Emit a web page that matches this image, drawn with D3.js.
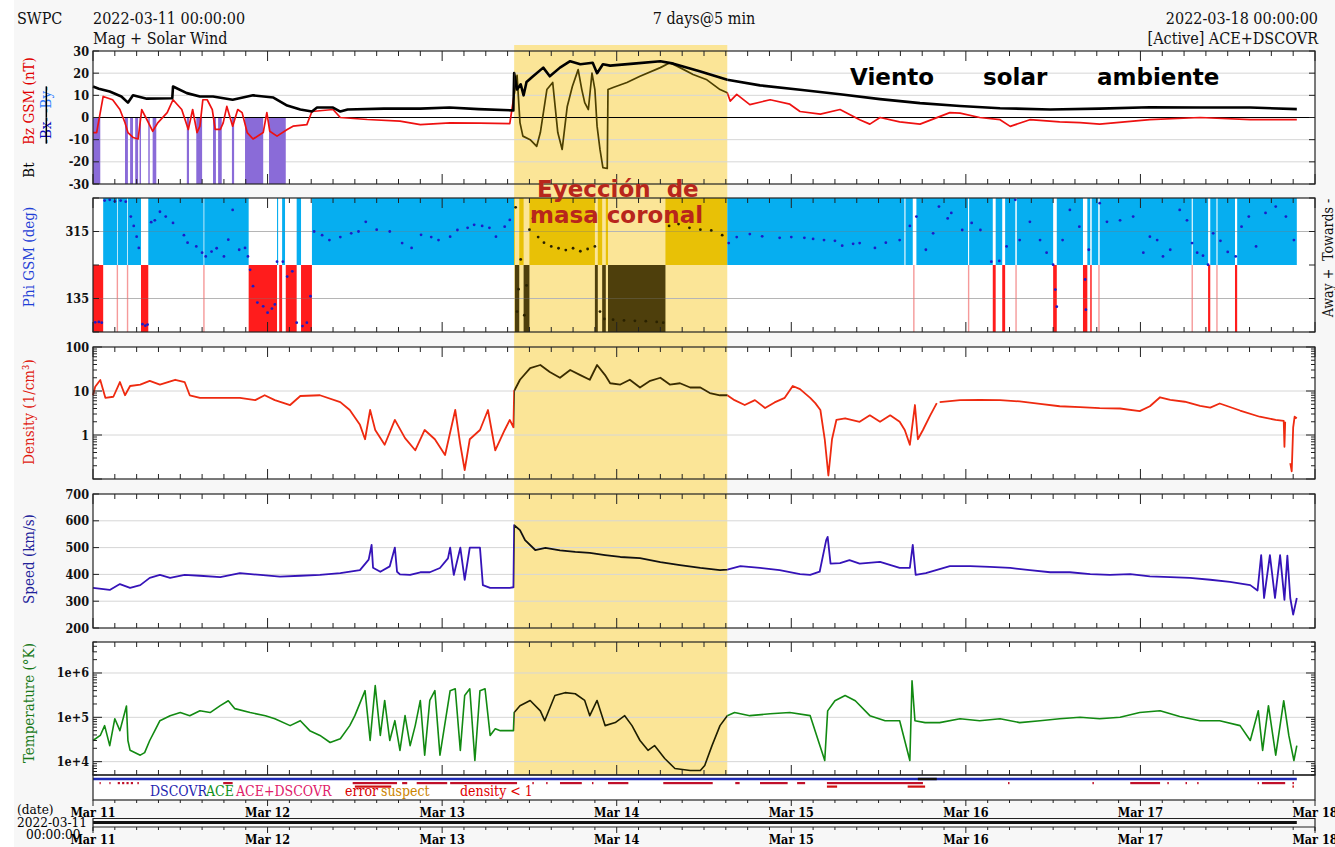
<!DOCTYPE html>
<html><head><meta charset="utf-8">
<script src="https://cdn.jsdelivr.net/npm/d3@7"></script>
<style>
body{margin:0;background:#f7f7f7;}
svg{display:block;}
text{font-family:'DejaVu Serif Condensed','DejaVu Serif',serif;font-stretch:condensed;}
.ann{font-family:'DejaVu Sans',sans-serif;font-weight:bold;font-stretch:normal;white-space:pre;}
</style></head><body>
<svg id="c" width="1335" height="847"></svg>
<script>
// ---------------- DATA (hours since 2022-03-11 00:00 UTC) ----------------
const highlightHours = [57.9, 87.2];
const dataEndHour = 165.5;
const dayLabels = ["Mar 11","Mar 12","Mar 13","Mar 14","Mar 15","Mar 16","Mar 17","Mar 18"];

const bt = [[0,14],[0.8,13],[2.3,11.7],[3.9,9.5],[4.8,6.7],[5.5,10],[7.4,8.5],[10.9,8.7],[11.0,14],[12.9,11],[14.7,9.5],[16.5,9.5],[19.2,8],[22,10],[24.8,9],[26.7,5.4],[28.5,3.6],[30.1,2.7],[30.8,4.5],[33.0,4.5],[34.0,2.7],[35,3.6],[40,4],[45,4],[49,4.5],[53,3.8],[57.8,3.2],[57.9,20],[58.3,12.6],[58.8,15],[59.2,10],[59.6,16],[60.5,18.6],[61.9,22.5],[62.8,18.6],[64.2,22.5],[65.6,25.4],[67,24],[68.7,24.7],[69.3,20],[70.1,24],[71.1,23.4],[74.3,24.3],[78,25.4],[79.8,24.3],[83.4,20.9],[87.2,17],[91.7,14.5],[97.2,12.5],[102.7,10.5],[108.2,8.3],[113.7,6.5],[119.2,5.2],[124.7,4.2],[131.6,3.6],[138.4,4],[145.3,4.6],[152.2,4.5],[159.1,4.5],[165.5,3.8]];

const bz = [[0,-6.8],[0.5,-6.8],[1.4,9.5],[2.7,8],[3.7,3.6],[4.4,-2.4],[4.8,-6.8],[5.5,-9],[6.2,-9.7],[6.7,3.6],[7.4,-0.9],[8.2,-6.2],[8.9,-2.4],[10.2,2.2],[11,8],[12.2,3.6],[13.1,-5.4],[13.7,3.6],[14.3,-6.8],[14.7,-3.9],[15.1,8],[15.7,8],[16.4,3.6],[16.8,-5.4],[17.5,-5.4],[17.9,-2.4],[18.4,5],[19.2,-3.9],[19.9,3.6],[20.5,2.2],[21.2,-6.8],[22,-9.7],[23.4,-6.8],[23.9,2.2],[24.3,-6.2],[25.3,-8.4],[26.7,-5.4],[27.5,-3.9],[29.4,-3.2],[30.1,2.7],[33,3.6],[34,0],[37.7,-0.9],[42.2,-1.6],[45,-3.2],[49.1,-2.4],[53.2,-2.5],[57.3,-2.8],[58.3,19],[58.7,-2.3],[59.1,-8.4],[60.1,-10],[61,-13],[61.5,-6.8],[62.4,12.6],[63.2,15.8],[63.9,-6.8],[64.5,-14.4],[65.2,5],[65.9,14],[66.7,21.6],[67.2,12.6],[67.6,6.7],[68.1,3.6],[68.6,20],[69,12.6],[69.3,-3.9],[69.7,-14.4],[70.1,-22.6],[70.7,-23],[70.8,12.6],[71.5,13.5],[73.4,15.8],[75.2,18.6],[78,22.5],[79.3,24.7],[80.7,22.5],[82.5,19.4],[84.4,17],[86.2,12.6],[87.2,11.2],[87.6,7.4],[88.5,10.4],[90.3,5.8],[93.1,8],[95.8,6],[97.2,2.7],[100,1.5],[102.7,3.6],[105.4,-1],[106.8,-3],[108.2,0],[110.9,-2],[113.7,-3],[117.8,2.2],[119.2,2],[121.9,0],[124.7,-1],[126.1,-4],[128.8,-1],[132.9,-2],[135.7,-2.3],[138.4,-3],[145.3,-1],[152.2,0],[159.1,-1],[165.5,-1]];

const purpleIntervals = [[0,1.0],[4.4,4.8],[5.1,5.5],[5.8,6.2],[6.4,6.6],[7.6,7.8],[8.2,8.7],[12.9,13.2],[14.2,15.0],[16.5,16.9],[17.2,17.7],[19.1,19.4],[20.9,23.4],[24.2,26.5]];

const phiToward = [[1.4,3.3],[3.4,4.7],[4.8,6.6],[7.6,15.2],[15.3,21.4],[25.3,25.45],[26.0,26.4],[28.0,28.6],[30.1,58.0],[58.6,59.2],[60.0,69.0],[69.4,70.0],[70.5,70.8],[78.7,111.55],[111.7,112.7],[113.2,120.3],[120.45,123.7],[124.1,125.0],[125.4,126.8],[127.0,132.0],[132.5,136.1],[136.7,137.1],[137.3,138.2],[138.4,151.05],[151.2,153.3],[153.6,154.45],[154.6,157.0],[157.3,165.5]];
const phiAway = [[0,1.4],[6.6,7.6],[21.4,25.3],[25.6,26.0],[26.5,28.0],[28.6,30.1],[58.0,58.6],[59.2,60.0],[69.0,69.4],[70.0,70.5],[70.8,78.7],[123.7,124.1],[125.0,125.4],[132.0,132.5],[136.1,136.7],[137.1,137.3],[153.3,153.6],[157.0,157.3]];
const phiAwayThin = [3.35,4.75,15.25,112.85,120.38,126.9,138.3,151.12,154.52];

const phi = [[0.3,71],[0.8,72],[1.2,70],[1.6,398],[2.3,400],[3.0,396],[3.8,398],[4.5,395],[5.2,355],[5.6,330],[6.0,301],[6.3,271],[6.8,66],[7.2,62],[7.5,65],[8.0,340],[8.5,345],[9.2,368],[10.0,355],[11.0,338],[12.5,305],[13.0,285],[14.2,275],[15.0,258],[15.5,248],[16.3,261],[17.0,270],[18.0,248],[18.6,293],[19.2,373],[20.1,266],[20.9,271],[21.3,248],[21.6,212],[22.0,168],[22.6,124],[23.4,114],[24.0,97],[24.6,108],[25.0,119],[25.3,234],[26.1,234],[26.7,194],[27.4,208],[28.0,70],[28.8,61],[29.4,70],[29.9,141],[30.4,315],[31.5,305],[32.5,292],[34,300],[35.5,310],[36.5,315],[37.5,341],[39,320],[40.8,315],[42.5,284],[43.8,271],[45.1,306],[46.5,300],[47.5,292],[49.1,301],[50.1,319],[51.5,325],[52.4,333],[53.5,330],[54.5,325],[55.4,301],[56.6,328],[57.3,346],[58.1,380],[58.3,100],[58.5,160],[58.8,240],[59.3,90],[59.6,170],[60.0,320],[60.5,350],[61.2,300],[62.0,285],[63.0,275],[64.0,270],[65.0,265],[66.0,270],[67.0,262],[68.0,268],[69.0,275],[69.7,100],[70.3,80],[71.5,78],[73,76],[74.5,75],[76,74],[77.5,72],[78.4,70],[79.2,330],[80.5,335],[82,325],[83.5,320],[85,318],[86.5,305],[87.4,284],[88.5,300],[90.3,308],[92,302],[94.4,298],[96,300],[97.8,298],[99,295],[100.5,292],[102,290],[103,277],[104.5,282],[105.4,284],[107.5,271],[109,285],[110.9,292],[112.3,330],[113.2,355],[114.5,266],[115.5,310],[116.3,382],[117.5,350],[118,365],[119.5,319],[120.8,338],[122,319],[123.5,234],[124.6,236],[125.6,275],[126.8,400],[127.4,292],[128.8,341],[130.2,292],[131.1,258],[132.0,226],[132.3,159],[132.5,113],[133.3,292],[134.3,373],[135.6,328],[136.4,186],[136.5,105],[136.9,266],[138.4,391],[139.4,341],[141.2,345],[143,355],[144.4,258],[145.3,301],[146.3,292],[147.1,248],[148.1,266],[149.4,373],[150.4,345],[151.1,284],[151.8,258],[152.6,250],[153.3,226],[154,310],[155,290],[156,260],[157.1,248],[157.9,328],[158.9,355],[159.9,275],[161.2,365],[162.6,382],[164,355],[165.1,292]];

const density = [[0,8],[0.3,12.5],[1,17.8],[1.7,7],[2.8,7.4],[3.7,16],[4.4,8],[5.1,13],[6.5,14],[7.8,17],[9.2,14],[11.3,18],[12.6,16],[13.3,8],[14.7,7],[17.5,7],[20.2,7],[22.3,6.2],[23.6,8],[25,6.2],[27.1,4.8],[28.5,7.7],[31.2,8],[34,5.6],[35.3,3.7],[36.7,1.7],[37.4,0.8],[38.1,3.7],[38.8,1.3],[40.1,0.6],[41.5,2.2],[42.9,0.85],[44.3,0.45],[45.6,1.3],[47,0.8],[48.4,0.35],[49.8,3.7],[50.5,0.6],[51.1,0.16],[51.8,0.8],[53.2,1.3],[54.3,3.7],[55.3,0.45],[56,0.8],[56.6,1.3],[57.3,2.2],[57.8,1.5],[57.9,10],[58.7,18],[60.1,33],[61.5,39],[62.8,27],[64.2,20],[65.6,30],[67,23],[68.3,18],[69.3,39],[70.4,23],[71.1,15],[72.5,14],[73.8,18],[75.2,12],[76.6,17],[78,20],[79.3,14],[80.7,15],[82.1,12],[83.5,12],[84.8,9],[86.2,8],[87.2,8],[88.2,6.2],[89.6,4.8],[91,6.2],[92.4,4.1],[93.7,5.5],[95.1,7],[96.2,13],[97.2,11],[98.6,7],[99.3,5.3],[100,3.7],[100.6,0.8],[101.1,0.12],[101.6,0.8],[102.2,2.2],[103.4,2.4],[105.4,2],[106.8,2.8],[108.2,2],[109.6,2.8],[110.9,2],[111.6,1.3],[112.3,0.6],[113,4.8],[113.4,0.8],[114.1,1.3],[115.1,2.8],[116,5.3],[116.1,null],[116.4,5.6],[119.2,6.2],[121.9,6.3],[124.7,6.2],[127.4,5.8],[130.2,5.1],[132.9,4.5],[135.7,4.3],[138.4,4.1],[141.2,4.0],[143.9,3.5],[145.3,4.5],[146.7,7.2],[148.1,6.3],[150.1,5.7],[152.2,4.6],[153.6,4.2],[154.9,5.2],[157.7,3.6],[160.4,2.6],[162.6,2.2],[163.7,2.1],[163.8,0.54],[163.9,2.0],[164.0,null],[164.6,0.23],[164.8,0.15],[165.0,1.5],[165.2,2.6],[165.5,2.4]];

const speed = [[0,350],[2.3,342],[3.7,364],[5.1,350],[6.5,360],[7.8,387],[9.2,398],[10.6,387],[12.6,398],[14.7,395],[17.5,390],[20.2,405],[23,398],[25.7,392],[28.5,395],[31.2,398],[34,405],[36.7,416],[37.9,455],[38.3,510],[38.5,425],[39.5,410],[40.8,430],[41.5,500],[41.8,410],[42.2,400],[43.6,398],[45,408],[46.3,408],[47.7,424],[48.8,460],[49.1,500],[49.6,398],[50.5,500],[51.1,380],[51.8,500],[53.2,500],[53.6,360],[54.6,350],[56,350],[57.3,350],[57.8,352],[57.9,584],[58.7,565],[59.4,528],[60.8,491],[62.2,499],[64.2,490],[66.3,484],[68.3,480],[70.4,472],[72.5,465],[75.2,461],[78,446],[80.7,435],[83.5,424],[86.2,416],[87.2,418],[89,431],[91.7,424],[94.4,416],[97.2,401],[98.6,398],[99.9,410],[100.8,528],[101,540],[101.4,440],[102.7,442],[104,453],[105.4,440],[108.2,447],[110.9,424],[112.3,424],[112.7,510],[113.1,398],[114.5,405],[117.8,431],[120.6,431],[123.3,428],[126.1,424],[128.8,416],[131.6,408],[134.3,408],[137.1,401],[139.8,398],[142.6,401],[145.3,393],[148.1,390],[150.8,387],[153.6,380],[156.3,372],[159.1,360],[160.1,340],[160.6,472],[161,312],[161.8,472],[162.5,312],[163.2,472],[163.8,305],[164.2,470],[164.6,312],[165,250],[165.5,312]];

const temperature = [[0,3.0e4],[1,3.9e4],[1.6,6.5e4],[2.3,2.3e4],[3.0,9.3e4],[3.7,5e4],[4.6,1.8e5],[4.8,3e4],[5.1,1.8e4],[6.5,1.4e4],[7.1,1.6e4],[7.8,3e4],[8.5,5e4],[9.2,8.4e4],[10.6,1.09e5],[12,1.28e5],[13.3,1.09e5],[14.7,1.41e5],[16.1,1.28e5],[17.5,1.83e5],[18.6,2.37e5],[19.5,1.57e5],[21.6,1.28e5],[23.7,1.09e5],[25,9.3e4],[27.1,6.5e4],[28.5,8.4e4],[29.8,5e4],[31.2,3.9e4],[32.6,2.7e4],[34,3.3e4],[35.3,6.5e4],[36,1.09e5],[37.4,4.0e5],[38.1,3.0e4],[38.8,5.2e5],[39.5,3.9e4],[40.1,2.4e5],[40.8,3.0e4],[41.5,8.4e4],[42.2,1.8e4],[42.9,1.09e5],[43.6,2.3e4],[44.3,6.5e4],[45,2.4e5],[45.6,1.4e4],[46.3,2.4e5],[47,4e5],[47.7,1.4e4],[49.1,4e5],[49.8,4.4e5],[50.5,1.8e4],[51.1,3.1e5],[51.8,4.4e5],[52.5,1.06e4],[53.2,4e5],[53.9,4.4e5],[54.6,3.9e4],[55.3,5.5e4],[56,5e4],[57.3,5e4],[57.8,5e4],[57.9,1.28e5],[58.7,1.83e5],[60.1,2.4e5],[61.5,1.4e5],[62.1,8.4e4],[63.5,3.1e5],[64.9,3.6e5],[66.3,3.4e5],[67.6,2.4e5],[68.3,1.09e5],[69.3,2.4e5],[70.4,6.5e4],[71.8,7.6e4],[73.1,1.09e5],[74.1,6.5e4],[75.2,3e4],[76.3,1.8e4],[77.2,2.3e4],[78.6,1.18e4],[80,7e3],[82.1,6.3e3],[83.5,6.3e3],[84.1,8.2e3],[85.1,2.3e4],[86.2,6.5e4],[87.2,1.09e5],[88.2,1.28e5],[90.3,1.09e5],[93.1,1.2e5],[95.8,1.28e5],[98.6,1.09e5],[100.6,1.06e4],[101,1.4e5],[102,2.37e5],[103.4,3.1e5],[104.8,2.37e5],[106.8,1.09e5],[108.9,8.4e4],[110.9,8.4e4],[112.3,1.06e4],[112.6,6.7e5],[113,8.4e4],[114.4,7.6e4],[116.4,7.6e4],[119.2,9.3e4],[121.9,8.4e4],[124.7,9.3e4],[127.4,7.6e4],[130.2,8.4e4],[132.9,9.3e4],[135.7,1.0e5],[138.4,9.3e4],[141.2,1.0e5],[143.9,1.28e5],[146.7,1.41e5],[149.4,1.04e5],[152.2,8.4e4],[154.9,8.4e4],[157.7,6.5e4],[159.1,3e4],[160.2,1.41e5],[160.8,1.8e4],[161.6,1.83e5],[162.6,1.4e4],[163.7,2.37e5],[164.4,3.9e4],[165.1,1.06e4],[165.5,2.3e4]];

const statusErrRow1 = [[0.9,1.05],[2.25,2.4],[3.4,3.7],[4.0,4.3],[4.6,4.9],[5.2,5.5],[6.1,6.3],[17.9,19.2],[35.7,41.8],[42.5,43.2],[44.5,48.7],[49.1,58.3],[60.4,60.6],[62.3,62.5],[64.2,67.2],[68.6,68.8],[70.8,73.6],[78.4,85.2],[88.3,88.9],[91.7,95.5],[96.8,97.9],[100.9,114.1],[125.8,126.0],[137.4,137.6],[142.6,146.7],[147.7,147.9],[150.2,150.4],[151.8,152.0],[160.1,160.3],[160.7,163.9],[164.9,165.1]];
const statusErrRow2 = [[36,41],[100.9,102.3],[112,114.4],[164.9,165.1]];
const statusBlack = [[113.4,116.0]];

const yTicksB = [30,20,10,0,-10,-20,-30];
const yTicksPhi = [315,135];
const yTicksDen = [100,10,1];
const yTicksSpd = [700,600,500,400,300,200];
const yTicksTmp = [1e6,1e5,1e4];
const tmpLabels = ["1e+6","1e+5","1e+4"];

// ---------------- SETUP ----------------
const START = Date.UTC(2022,2,11);
const T = h => new Date(START + h*3600e3);
const X0 = 93, X1 = 1315;
const x = d3.scaleUtc().domain([T(0),T(168)]).range([X0,X1]);
const xh = h => x(T(h));
const inHL = h => h >= highlightHours[0] && h <= highlightHours[1];

const P = {
  b:   {top:51, bot:184, y:d3.scaleLinear().domain([-30,30]).range([184,51])},
  phi: {top:198,bot:332, y:d3.scaleLinear().domain([45,405]).range([332,198])},
  den: {top:347,bot:479, y:d3.scaleLog().domain([0.1,100]).range([479,347])},
  spd: {top:494,bot:628, y:d3.scaleLinear().domain([200,700]).range([628,494])},
  tmp: {top:642,bot:775, y:d3.scaleLog().domain([5e3,5e6]).range([775,642])}
};
const STRIP = {top:775, bot:800};

const svg = d3.select('#c');
svg.append('rect').attr('width',1335).attr('height',847).attr('fill','#f7f7f7');
svg.append('rect').attr('width',14).attr('height',847).attr('fill','#ffffff');

const defs = svg.append('defs');
const hx0 = xh(highlightHours[0]), hx1 = xh(highlightHours[1]);
defs.append('clipPath').attr('id','cin').append('rect').attr('x',hx0).attr('y',0).attr('width',hx1-hx0).attr('height',847);
const co = defs.append('clipPath').attr('id','cout');
co.append('rect').attr('x',0).attr('y',0).attr('width',hx0).attr('height',847);
co.append('rect').attr('x',hx1).attr('y',0).attr('width',1335-hx1).attr('height',847);

Object.values(P).forEach(p=>{
  svg.append('rect').attr('x',X0).attr('y',p.top).attr('width',X1-X0).attr('height',p.bot-p.top).attr('fill','#fff');
});
svg.append('rect').attr('x',X0).attr('y',STRIP.top).attr('width',X1-X0).attr('height',STRIP.bot-STRIP.top).attr('fill','#fff');

svg.append('rect').attr('x',hx0).attr('y',45).attr('width',hx1-hx0).attr('height',775-45).attr('fill','#fbe597');

function grid(p, vals, color){
  svg.selectAll(null).data(vals).enter().append('line')
    .attr('x1',X0).attr('x2',X1).attr('y1',d=>p.y(d)).attr('y2',d=>p.y(d))
    .attr('stroke',color||'#d6d6d6').attr('stroke-width',1);
}
grid(P.b,[20,10,-10,-20]);
grid(P.phi,yTicksPhi);
grid(P.den,[10,1]);
grid(P.spd,[600,500,400,300]);
grid(P.tmp,yTicksTmp);

function splitHL(iv){
  const out=[];
  iv.forEach(([a,b])=>{
    const cuts=[a,...highlightHours.filter(c=>c>a&&c<b),b];
    for(let i=0;i<cuts.length-1;i++) out.push([cuts[i],cuts[i+1],inHL((cuts[i]+cuts[i+1])/2)]);
  });
  return out;
}

// ---- Panel 1
svg.selectAll(null).data(purpleIntervals).enter().append('rect')
  .attr('x',d=>xh(d[0])).attr('width',d=>Math.max(1,xh(d[1])-xh(d[0])))
  .attr('y',P.b.y(0)).attr('height',P.b.y(-30)-P.b.y(0)).attr('fill','#8a6bd8');
svg.append('line').attr('x1',X0).attr('x2',X1).attr('y1',P.b.y(0)).attr('y2',P.b.y(0)).attr('stroke','#000').attr('stroke-width',1.2);

function drawLine(data, p, colOut, colIn, w){
  const gen = d3.line().defined(d=>d[1]!=null).x(d=>xh(d[0])).y(d=>p.y(d[1]));
  svg.append('path').attr('d',gen(data)).attr('fill','none').attr('stroke',colOut).attr('stroke-width',w).attr('stroke-linejoin','round').attr('clip-path','url(#cout)');
  svg.append('path').attr('d',gen(data)).attr('fill','none').attr('stroke',colIn).attr('stroke-width',w).attr('stroke-linejoin','round').attr('clip-path','url(#cin)');
}
drawLine(bz, P.b, '#ee1111', '#4d4000', 1.7);
drawLine(bt, P.b, '#000', '#000', 2.6);

// ---- Panel 2
const ymid = P.phi.y(225);
svg.selectAll(null).data(splitHL(phiToward)).enter().append('rect')
  .attr('x',d=>xh(d[0])).attr('width',d=>Math.max(0.8,xh(d[1])-xh(d[0])))
  .attr('y',P.phi.top).attr('height',ymid-P.phi.top)
  .attr('fill',d=>d[2]?'#e8c106':'#06aef0');
svg.selectAll(null).data(splitHL(phiAway)).enter().append('rect')
  .attr('x',d=>xh(d[0])).attr('width',d=>Math.max(0.8,xh(d[1])-xh(d[0])))
  .attr('y',ymid).attr('height',P.phi.bot-ymid)
  .attr('fill',d=>d[2]?'#4e3f0c':'#ff1c1c');
svg.selectAll(null).data(phiAwayThin).enter().append('rect')
  .attr('x',d=>xh(d)-0.7).attr('width',1.4)
  .attr('y',ymid).attr('height',P.phi.bot-ymid).attr('fill','#f59a9a');
grid(P.phi,yTicksPhi,'rgba(120,120,120,0.35)');
svg.selectAll(null).data(phi).enter().append('circle')
  .attr('cx',d=>xh(d[0])).attr('cy',d=>P.phi.y(d[1])).attr('r',1.4)
  .attr('fill',d=>inHL(d[0])?'#2a2200':'#1c1cc8');

// ---- Panels 3-5
drawLine(density, P.den, '#ee2a10', '#3a2c00', 1.8);
drawLine(speed, P.spd, '#3513b8', '#111', 1.8);
drawLine(temperature, P.tmp, '#128a12', '#1e1e00', 1.6);

// ---- status strip
svg.append('line').attr('x1',X0).attr('x2',xh(dataEndHour)).attr('y1',779).attr('y2',779).attr('stroke','#1f2bb5').attr('stroke-width',2.5);
svg.selectAll(null).data(statusBlack).enter().append('line')
  .attr('x1',d=>xh(d[0])).attr('x2',d=>xh(d[1])).attr('y1',779).attr('y2',779).attr('stroke','#111').attr('stroke-width',2.5);
svg.selectAll(null).data(statusErrRow1).enter().append('rect')
  .attr('x',d=>xh(d[0])).attr('width',d=>Math.max(1.2,xh(d[1])-xh(d[0]))).attr('y',782).attr('height',2.2).attr('fill','#c0102a');
svg.selectAll(null).data(statusErrRow2).enter().append('rect')
  .attr('x',d=>xh(d[0])).attr('width',d=>Math.max(1.2,xh(d[1])-xh(d[0]))).attr('y',785.5).attr('height',2.2).attr('fill','#d01010');
const legend = [["DSCOVR",150,'#1f1fb0'],["ACE",206,'#10901a'],["ACE+DSCOVR",236,'#e0206a'],["error",345,'#d80000'],["suspect",381,'#cc8400'],["density < 1",460,'#e00000']];
svg.selectAll(null).data(legend).enter().append('text')
  .attr('x',d=>d[1]).attr('y',796).attr('font-size',14).attr('fill',d=>d[2]).text(d=>d[0]);

// ---- borders & ticks
const hours3 = d3.range(0,169,3);
function frame(top,bot,ticksTop,ticksBot){
  svg.append('rect').attr('x',X0).attr('y',top).attr('width',X1-X0).attr('height',bot-top).attr('fill','none').attr('stroke','#222').attr('stroke-width',1.2);
  if(ticksTop) svg.selectAll(null).data(hours3).enter().append('line')
    .attr('x1',d=>xh(d)).attr('x2',d=>xh(d)).attr('y1',top).attr('y2',d=>top+(d%24===0?10:5)).attr('stroke','#222');
  if(ticksBot) svg.selectAll(null).data(hours3).enter().append('line')
    .attr('x1',d=>xh(d)).attr('x2',d=>xh(d)).attr('y1',bot).attr('y2',d=>bot-(d%24===0?10:5)).attr('stroke','#222');
}
Object.values(P).forEach(p=>frame(p.top,p.bot,true,true));
frame(STRIP.top,STRIP.bot,false,false);

function yTicks(p, vals, len){
  svg.selectAll(null).data(vals).enter().append('line')
    .attr('x1',X0).attr('x2',X0+len).attr('y1',d=>p.y(d)).attr('y2',d=>p.y(d)).attr('stroke','#222');
  svg.selectAll(null).data(vals).enter().append('line')
    .attr('x1',X1-len).attr('x2',X1).attr('y1',d=>p.y(d)).attr('y2',d=>p.y(d)).attr('stroke','#222');
}
yTicks(P.b,yTicksB,6); yTicks(P.phi,[405,315,225,135,45],6); yTicks(P.spd,yTicksSpd,6);
function logTicks(p){
  const [a,b]=p.y.domain(); const maj=[],min=[];
  for(let e=Math.floor(Math.log10(a));e<=Math.ceil(Math.log10(b));e++){
    for(let m=1;m<10;m++){const v=m*Math.pow(10,e); if(v>=a&&v<=b){ (m===1?maj:min).push(v);} }
  }
  yTicks(p,maj,9); yTicks(p,min,4);
}
logTicks(P.den); logTicks(P.tmp);

function yLabels(p, vals, labels){
  svg.selectAll(null).data(vals).enter().append('text')
    .attr('x',89).attr('y',d=>p.y(d)).attr('dy','0.36em').attr('text-anchor','end')
    .attr('font-size',12.5).attr('font-weight','bold').attr('fill','#111')
    .text((d,i)=>labels?labels[i]:d);
}
yLabels(P.b,yTicksB); yLabels(P.phi,yTicksPhi); yLabels(P.den,yTicksDen);
yLabels(P.spd,yTicksSpd); yLabels(P.tmp,yTicksTmp,tmpLabels);

// ---- date axes
const days = d3.range(0,8);
svg.selectAll(null).data(hours3).enter().append('line')
  .attr('x1',d=>xh(d)).attr('x2',d=>xh(d)).attr('y1',800).attr('y2',d=>800+(d%24===0?6:3)).attr('stroke','#222');
svg.selectAll(null).data(days).enter().append('text')
  .attr('x',d=>xh(d*24)).attr('y',817).attr('text-anchor','middle').attr('font-size',12.5).attr('font-weight','bold').text(d=>dayLabels[d]);
svg.append('line').attr('x1',X0).attr('x2',X1).attr('y1',818.5).attr('y2',818.5).attr('stroke','#222').attr('stroke-width',1.2);
svg.append('line').attr('x1',X0).attr('x2',xh(dataEndHour)).attr('y1',822.5).attr('y2',822.5).attr('stroke','#111').attr('stroke-width',3);
svg.append('line').attr('x1',X0).attr('x2',X1).attr('y1',827).attr('y2',827).attr('stroke','#222').attr('stroke-width',1.2);
svg.append('line').attr('x1',X1).attr('x2',X1).attr('y1',818).attr('y2',831).attr('stroke','#222').attr('stroke-width',1.2);
svg.append('line').attr('x1',X0).attr('x2',X0).attr('y1',818).attr('y2',831).attr('stroke','#222').attr('stroke-width',1.2);
svg.selectAll(null).data(hours3).enter().append('line')
  .attr('x1',d=>xh(d)).attr('x2',d=>xh(d)).attr('y1',827).attr('y2',d=>827+(d%24===0?6:3)).attr('stroke','#222');
svg.selectAll(null).data(days).enter().append('text')
  .attr('x',d=>xh(d*24)).attr('y',844).attr('text-anchor','middle').attr('font-size',12.5).attr('font-weight','bold').text(d=>dayLabels[d]);
svg.append('text').attr('x',17).attr('y',814).attr('font-size',13.5).text('(date)');
svg.append('text').attr('x',17).attr('y',827).attr('font-size',13.5).text('2022-03-11');
svg.append('text').attr('x',26).attr('y',839).attr('font-size',13.5).text('00:00:00');

// ---- header
const hdr=(t,xp,yp,anc)=>svg.append('text').attr('x',xp).attr('y',yp).attr('font-size',16).attr('text-anchor',anc||'start').attr('fill','#111').text(t);
hdr('SWPC',17,24); hdr('2022-03-11 00:00:00',93,24); hdr('Mag + Solar Wind',93,44);
hdr('7 days@5 min',704,24,'middle'); hdr('2022-03-18 00:00:00',1318,24,'end'); hdr('[Active] ACE+DSCOVR',1318,44,'end');

// ---- rotated axis titles
function rot(t,xp,yp,col,fs){
  return svg.append('text').attr('transform',`translate(${xp},${yp}) rotate(-90)`).attr('text-anchor','middle').attr('font-size',fs||15).attr('fill',col).text(t);
}
rot('Bt',34,170,'#000');
rot('Bz GSM (nT)',34,101,'#e00000');
const bxy = svg.append('text').attr('transform','translate(51,115) rotate(-90)').attr('text-anchor','middle').attr('font-size',15).style('text-decoration','line-through');
bxy.append('tspan').attr('fill','#1010c0').text('-Bx-');
bxy.append('tspan').attr('fill','#2f7bff').text(' -By-');
rot('Phi GSM (deg)',34,257,'#1f3fd6');
rot('Density (1/cm³)',34,412,'#e01a10');
rot('Speed (km/s)',34,559,'#22229a');
rot('Temperature (°K)',34,703,'#1a7a1a');
rot('Away +  Towards -',1333,258,'#111',14).style('white-space','pre');

// ---- annotations
const ann=(t,xp,yp,col)=>svg.append('text').attr('class','ann').attr('x',xp).attr('y',yp).attr('font-size',23).attr('fill',col).text(t);
ann('Viento',850,85,'#000'); ann('solar',983,85,'#000'); ann('ambiente',1097,85,'#000');
ann('Eyección  de',537,197,'#b8261c'); ann('masa coronal',530,223,'#b8261c');
</script>
</body></html>
